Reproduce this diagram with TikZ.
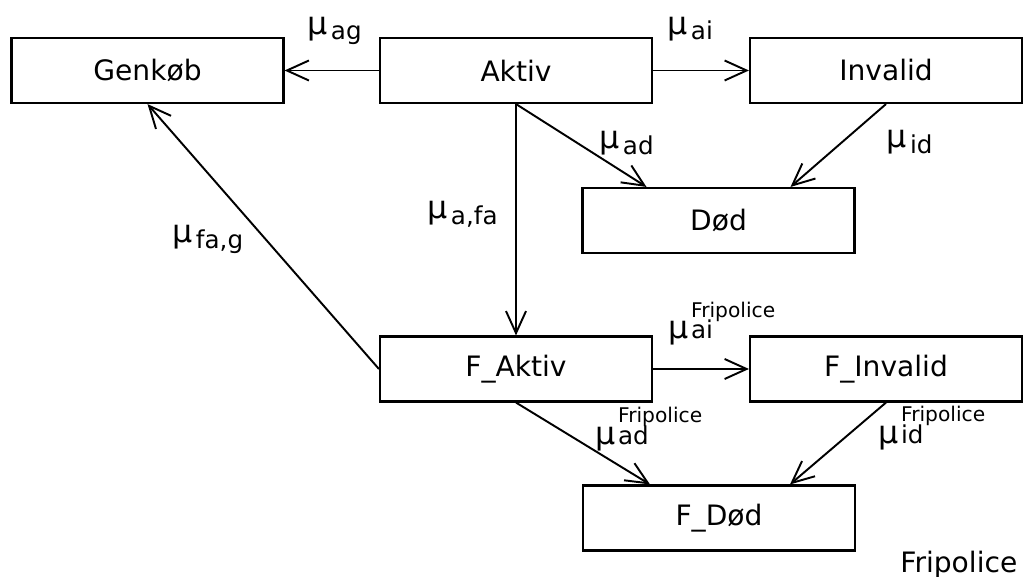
\documentclass[tikz,border=0pt]{standalone}
\usepackage{fontspec}
\setmainfont{DejaVu Sans}
\usepackage{tikz}
\usetikzlibrary{arrows.meta, positioning, calc}

\newcommand{\mug}{{\fontsize{18}{18}\selectfont μ}}
\newcommand{\rate}[1]{\mug\kern2pt\raisebox{-0.22em}{#1}}
\newcommand{\frate}[1]{\mug\kern1.5pt\rlap{\raisebox{0.87em}{\fontsize{11.5}{12}\selectfont Fripolice}}#1}

\tikzset{
    state/.style={draw, rectangle, line width=1.2pt, minimum width=54.4mm, minimum height=13mm, inner sep=0pt, font=\fontsize{16}{18}\selectfont},
    trans/.style={line width=1.1pt, -{Straight Barb[length=4.4mm, width=4mm]}},
    ratelabel/.style={anchor=base west, inner sep=0pt, font=\fontsize{14}{16}\selectfont}
}

\begin{document}
\begin{tikzpicture}[x=0.2mm, y=-0.2mm]
\useasboundingbox (0,0) rectangle (1023,577);

% States
\node[state] (genkob) at (147.5,70.5) {Genkøb};
\node[state] (aktiv) at (516,70.5) {Aktiv};
\node[state] (invalid) at (886,70.5) {Invalid};
\node[state] (dod) at (718.5,220.5) {Død};
\node[state] (faktiv) at (516,369) {F\_Aktiv};
\node[state] (finvalid) at (886,369) {F\_Invalid};
\node[state] (fdod) at (719,518) {F\_Død};

% Transitions
\draw[trans] (aktiv) -- (genkob);
\draw[trans] (aktiv) -- (invalid);
\draw[trans] (aktiv.south) -- (faktiv.north);
\draw[trans] (aktiv.south) -- ([xshift=-14.4mm]dod.north);
\draw[trans] (invalid.south) -- ([xshift=14.4mm]dod.north);
\draw[trans] (faktiv.west) -- (genkob.south);
\draw[trans] (faktiv) -- (finvalid);
\draw[trans] (faktiv.south) -- ([xshift=-13.8mm]fdod.north);
\draw[trans] (finvalid.south) -- ([xshift=14.2mm]fdod.north);

% Intensities
\node[ratelabel] (mag) at (307,34.5) {\rate{ag}};
\node[ratelabel] (mai) at (667,34.5) {\rate{ai}};
\node[ratelabel] (mad) at (599,149) {\rate{ad}};
\node[ratelabel] (mid) at (886,148) {\rate{id}};
\node[ratelabel] (mafa) at (427,219) {\rate{a,fa}};
\node[ratelabel] (mfag) at (172,243) {\rate{fa,g}};
\node[ratelabel] (fmai) at (668,338.5) {\frate{ai}};
\node[ratelabel] (fmad) at (595,444) {\frate{ad}};
\node[ratelabel] (fmid) at (878,443) {\frate{id}};

\node[ratelabel, font=\fontsize{16}{18}\selectfont] (fripolice) at (900,572) {Fripolice};
\end{tikzpicture}
\end{document}
